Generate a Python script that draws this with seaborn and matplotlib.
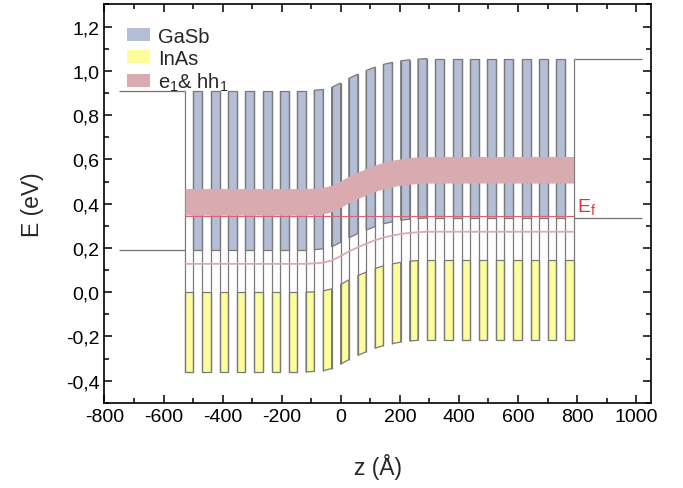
import numpy as np
import matplotlib
matplotlib.use("Agg")
import matplotlib.pyplot as plt
from matplotlib.patches import Polygon, Patch
from matplotlib.ticker import MultipleLocator, FuncFormatter
import seaborn as sns

# layer stack (Angstrom): InAs / GaSb periods, ends with an InAs layer
z_start = -527
d_inas = 28
d_gasb = 30.5
n_periods = 22

# band edges without bending (eV)
gasb_cb, gasb_vb = 0.91, 0.19
inas_cb, inas_vb = 0.0, -0.36

# band bending at every interface (eV), 46 interfaces
bend = [0.0] * 14 + [0.0, 0.002, 0.006, 0.015, 0.035, 0.056, 0.075, 0.091,
                     0.107, 0.119, 0.128, 0.135, 0.140, 0.143] + [0.145] * 18

# minibands (eV, unbent values)
hh1_level = 0.348
e1_level = 0.468
lh_level = 0.128
ef_level = 0.346

# bulk contacts
left_bulk = [0.91, 0.19]
left_x = [-750, z_start]
right_bulk = [1.055, 0.335]
right_x = [788, 1020]

col_gasb = "#b4bed6"
col_inas = "#fdfd9c"
col_band = "#d9abb1"
col_edge = "#7a7a7a"

sns.set_theme(style="ticks")
plt.rcParams['font.family'] = ['Liberation Sans', 'DejaVu Sans']
plt.rcParams['mathtext.default'] = 'regular'

# interface positions
widths = [d_inas, d_gasb] * n_periods + [d_inas]
z_if = np.concatenate([[z_start], z_start + np.cumsum(widths)])
bend = np.array(bend)

fig = plt.figure(figsize=(6.83, 4.89), dpi=100)
ax = fig.add_axes([0.153, 0.174, 0.800, 0.815])

for j in range(len(widths)):
    zl, zr = z_if[j], z_if[j + 1]
    bl, br = bend[j], bend[j + 1]
    if j % 2 == 0:
        lo, hi, fc = inas_vb, inas_cb, col_inas
    else:
        lo, hi, fc = gasb_vb, gasb_cb, col_gasb
    ax.add_patch(Polygon([(zl, lo + bl), (zr, lo + br), (zr, hi + br), (zl, hi + bl)],
                         closed=True, facecolor=fc, edgecolor=col_edge, lw=0.9, zorder=2))

# interface walls
ax.vlines(z_if, inas_vb + bend, gasb_cb + bend, color=col_edge, lw=0.9, zorder=2)
ax.hlines(left_bulk, left_x[0], left_x[1], color="#707070", lw=0.9, zorder=2)
ax.hlines(right_bulk, right_x[0], right_x[1], color="#707070", lw=0.9, zorder=2)

# e1 & hh1 band and lower level
ax.fill_between(z_if, hh1_level + bend, e1_level + bend, color=col_band, lw=0, zorder=3)
sns.lineplot(x=z_if, y=lh_level + bend, color="#dcaab2", lw=1.3, ax=ax, zorder=4)
ax.hlines(ef_level, z_if[0], z_if[-1], color="#e06070", lw=0.8, zorder=5)
ax.text(800, 0.39, "E$_f$", color="#e8303a", fontsize=14, va="center", ha="left")

ax.set_xlim(-800, 1050)
ax.set_ylim(-0.5, 1.3)
ax.xaxis.set_major_locator(MultipleLocator(200))
ax.xaxis.set_minor_locator(MultipleLocator(100))
ax.yaxis.set_major_locator(MultipleLocator(0.2))
ax.yaxis.set_minor_locator(MultipleLocator(0.1))
ax.yaxis.set_major_formatter(FuncFormatter(lambda v, p: f"{v:.1f}".replace('.', ',').replace('-0,0', '0,0')))
ax.xaxis.set_major_formatter(FuncFormatter(lambda v, p: f"{v:.0f}"))
ax.tick_params(which='both', direction='in', top=True, right=True, colors='black',
               labelsize=14, width=1.1)
ax.tick_params(which='major', length=6)
ax.tick_params(which='minor', length=3.5)
for s in ax.spines.values():
    s.set_linewidth(1.2)
    s.set_color('black')

ax.set_xlabel("z (Å)", fontsize=16.5, labelpad=20)
ax.set_ylabel("E (eV)", fontsize=16.5, labelpad=16)

handles = [Patch(facecolor=col_gasb, edgecolor='none', label='GaSb'),
           Patch(facecolor=col_inas, edgecolor='none', label='InAs'),
           Patch(facecolor=col_band, edgecolor='none', label='e$_1$& hh$_1$')]
ax.legend(handles=handles, loc='upper left', frameon=False, fontsize=14.5,
          handlelength=1.15, handleheight=0.65, labelspacing=0.15,
          borderaxespad=0.7, handletextpad=0.4)

fig.savefig("out.png", dpi=100)
